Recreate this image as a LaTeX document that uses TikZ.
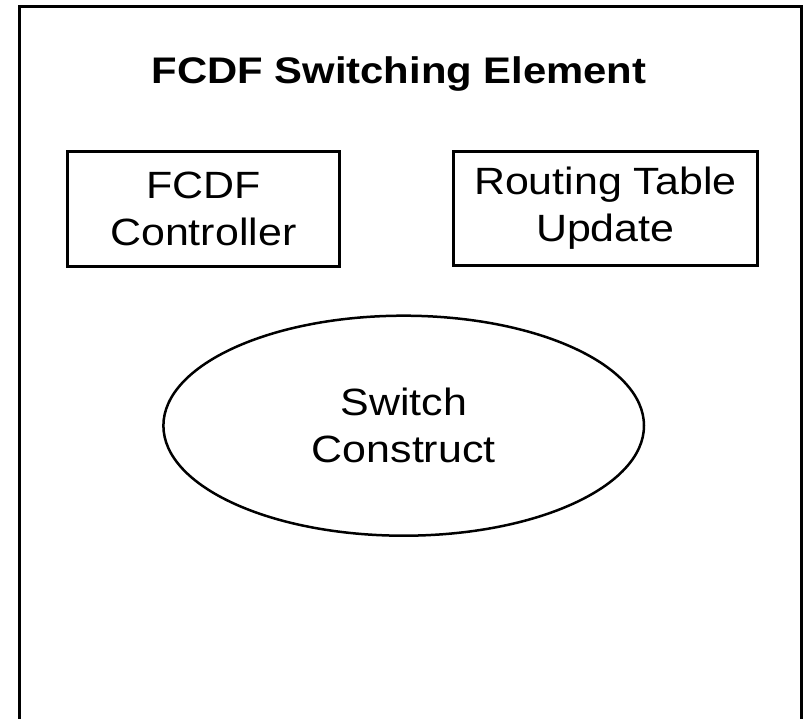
\documentclass[tikz,border=0pt]{standalone}
\usepackage{fontspec}
\setmainfont{Liberation Sans}[FakeStretch=1.13]
\usetikzlibrary{shapes.geometric}
\begin{document}
\begin{tikzpicture}[x=1pt,y=-1pt,
  frame/.style={draw=black,line width=3pt},
  boxnode/.style={draw=black,line width=3pt,rectangle,inner sep=0pt,align=center,
    font=\fontsize{38}{46.7}\selectfont},
  ellnode/.style={draw=black,line width=2.5pt,ellipse,inner sep=0pt,align=center,
    font=\fontsize{38}{46.7}\selectfont},
  titlenode/.style={inner sep=0pt,font=\fontsize{37}{44}\selectfont\bfseries}]
\useasboundingbox (0,0) rectangle (804,719);
\draw[frame] (19.5,6.5) rectangle (801.5,740);
\node[titlenode,anchor=base] (title) at (399,84) {FCDF Switching Element};
\node[boxnode,minimum width=272pt,minimum height=114.7pt] (ctrl) at (203.3,208.7) {FCDF\\Controller};
\node[boxnode,minimum width=304pt,minimum height=114.7pt] (rtu) at (605.3,208.4) {Routing Table\\Update};
\node[ellnode,minimum width=480.6pt,minimum height=220pt] (sw) at (403.7,425.7) {Switch\\Construct};
\end{tikzpicture}
\end{document}
